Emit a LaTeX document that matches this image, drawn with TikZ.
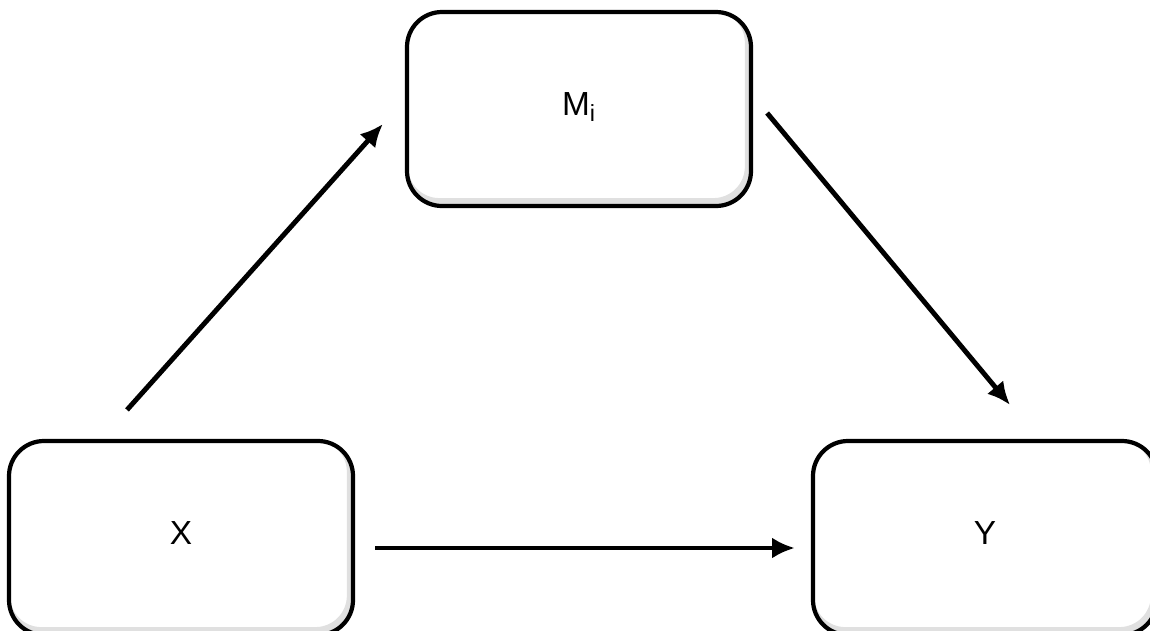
\documentclass[tikz,border=0pt]{standalone}
\usepackage{fontspec}
\setmainfont{Liberation Sans}
\usetikzlibrary{positioning}
\usetikzlibrary{arrows.meta}

\tikzset{
  varbox/.style={draw, line width=2.4pt, rounded corners=0.7cm,
    minimum width=6.88cm, minimum height=3.88cm, font=\fontsize{19}{21}\selectfont,
    path picture={\draw[black!12, line width=4pt, rounded corners=0.7cm]
      ([shift={(-1.5pt,2.5pt)}]path picture bounding box.south west) rectangle
      ([shift={(-1.5pt,2.5pt)}]path picture bounding box.north east);}},
  effect/.style={line width=2.8pt, -{Latex[length=13pt,width=12pt]}}
}

\begin{document}
\begin{tikzpicture}
        \useasboundingbox (0,0) rectangle (23,12.6);

        \node[varbox] (M) at (11.58,10.42) {\raisebox{6pt}{M\textsubscript{i}}};
        \node[varbox] (X) at (3.62,1.84) {\raisebox{6pt}{X}};
        \node[varbox] (Y) at (19.70,1.84) {\raisebox{6pt}{Y}};

        \coordinate[above left=0.58 and 1.08 of X.north] (xm tail);
        \coordinate[below left=0.30 and 0.44 of M.west] (xm tip);
        \coordinate[below right=0.08 and 0.28 of M.east] (my tail);
        \coordinate[above right=0.68 and 0.50 of Y.north] (my tip);
        \coordinate[below right=0.20 and 0.40 of X.east] (xy tail);
        \coordinate[below left=0.20 and 0.32 of Y.west] (xy tip);

        \draw[effect] (xm tail) -- (xm tip);
        \draw[effect] (my tail) -- (my tip);
        \draw[effect] (xy tail) -- (xy tip);
      \end{tikzpicture}
\end{document}
